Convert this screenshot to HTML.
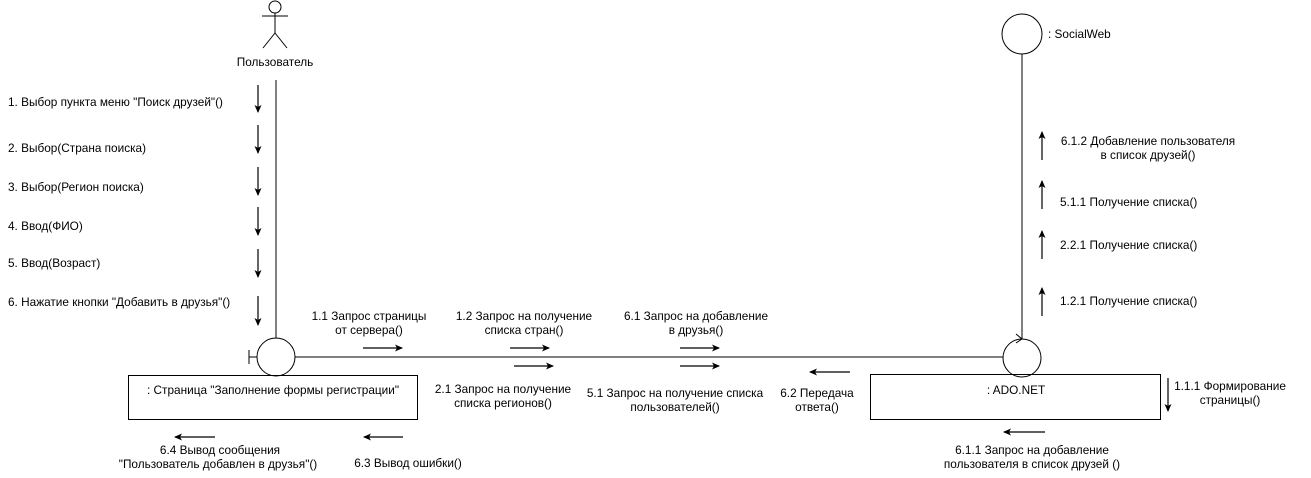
<!DOCTYPE html>
<html><head><meta charset="utf-8"><style>
body{margin:0;background:#fff;width:1311px;height:473px;overflow:hidden}
svg text{font-family:"Liberation Sans",sans-serif;font-size:11.8px;fill:#000}
</style></head><body>
<svg width="1311" height="473" xmlns="http://www.w3.org/2000/svg">
<defs><marker id="a" markerWidth="8" markerHeight="8" refX="7" refY="4" orient="auto" markerUnits="userSpaceOnUse"><path d="M0,0.5 L8,4 L0,7.5 L2,4 Z" fill="#000"/></marker></defs>
<g stroke="#000" fill="none" stroke-width="1">
<circle cx="275" cy="7" r="6"/>
<line x1="275" y1="13" x2="275" y2="33"/>
<line x1="262" y1="16" x2="288" y2="16"/>
<line x1="275" y1="33" x2="263" y2="48"/>
<line x1="275" y1="33" x2="287" y2="48"/>
<line x1="276" y1="80" x2="276" y2="338"/>
<circle cx="1022" cy="34" r="20"/>
<line x1="1022" y1="54" x2="1022" y2="339"/>
<path d="M1016,334 L1022,339 L1016,343"/>
<circle cx="276" cy="357" r="19"/>
<line x1="249" y1="357" x2="257" y2="357"/>
<line x1="249" y1="350" x2="249" y2="364"/>
<line x1="295" y1="357" x2="1003" y2="357"/>
<circle cx="1022" cy="358" r="19"/>
<rect x="128.5" y="375.5" width="289" height="44"/>
<rect x="870.5" y="374.5" width="290" height="45"/>
</g>
<g stroke="#000" stroke-width="1.2" marker-end="url(#a)">
<line x1="258" y1="85" x2="258" y2="112"/>
<line x1="258" y1="125" x2="258" y2="153"/>
<line x1="258" y1="167" x2="258" y2="195"/>
<line x1="258" y1="207" x2="258" y2="235"/>
<line x1="258" y1="249" x2="258" y2="277"/>
<line x1="258" y1="296" x2="258" y2="325"/>
<line x1="1042" y1="160" x2="1042" y2="132"/>
<line x1="1042" y1="209" x2="1042" y2="181"/>
<line x1="1042" y1="259" x2="1042" y2="231"/>
<line x1="1042" y1="316" x2="1042" y2="288"/>
<line x1="363" y1="348" x2="402" y2="348"/>
<line x1="510" y1="348" x2="549" y2="348"/>
<line x1="680" y1="348" x2="719" y2="348"/>
<line x1="514" y1="366" x2="553" y2="366"/>
<line x1="680" y1="366" x2="719" y2="366"/>
<line x1="850" y1="372" x2="810" y2="372"/>
<line x1="1168" y1="378" x2="1168" y2="411"/>
<line x1="215" y1="437" x2="175" y2="437"/>
<line x1="403" y1="437" x2="364" y2="437"/>
<line x1="1045" y1="432" x2="1004" y2="432"/>
</g>
<text x="275" y="66" text-anchor="middle">Пользователь</text>
<text x="1048" y="38">: SocialWeb</text>
<text x="8" y="106">1. Выбор пункта меню "Поиск друзей"()</text>
<text x="8" y="152">2. Выбор(Страна поиска)</text>
<text x="8" y="191">3. Выбор(Регион поиска)</text>
<text x="8" y="230">4. Ввод(ФИО)</text>
<text x="8" y="267">5. Ввод(Возраст)</text>
<text x="8" y="306">6. Нажатие кнопки "Добавить в друзья"()</text>
<text x="1148" y="145" text-anchor="middle">6.1.2 Добавление пользователя</text>
<text x="1148" y="159" text-anchor="middle">в список друзей()</text>
<text x="1060" y="206">5.1.1 Получение списка()</text>
<text x="1060" y="249">2.2.1 Получение списка()</text>
<text x="1060" y="305">1.2.1 Получение списка()</text>
<text x="369" y="320" text-anchor="middle">1.1 Запрос страницы</text>
<text x="369" y="334" text-anchor="middle">от сервера()</text>
<text x="524" y="320" text-anchor="middle">1.2 Запрос на получение</text>
<text x="524" y="334" text-anchor="middle">списка стран()</text>
<text x="696" y="320" text-anchor="middle">6.1 Запрос на добавление</text>
<text x="696" y="334" text-anchor="middle">в друзья()</text>
<text x="273" y="394" text-anchor="middle">: Страница "Заполнение формы регистрации"</text>
<text x="1016" y="394" text-anchor="middle">: ADO.NET</text>
<text x="503" y="393" text-anchor="middle">2.1 Запрос на получение</text>
<text x="503" y="407" text-anchor="middle">списка регионов()</text>
<text x="675" y="397" text-anchor="middle">5.1 Запрос на получение списка</text>
<text x="675" y="411" text-anchor="middle">пользователей()</text>
<text x="817" y="397" text-anchor="middle">6.2 Передача</text>
<text x="817" y="411" text-anchor="middle">ответа()</text>
<text x="1230" y="390" text-anchor="middle">1.1.1 Формирование</text>
<text x="1230" y="404" text-anchor="middle">страницы()</text>
<text x="220" y="454" text-anchor="middle">6.4 Вывод сообщения</text>
<text x="218" y="468" text-anchor="middle">"Пользователь добавлен в друзья"()</text>
<text x="408" y="467" text-anchor="middle">6.3 Вывод ошибки()</text>
<text x="1032" y="454" text-anchor="middle">6.1.1 Запрос на добавление</text>
<text x="1032" y="468" text-anchor="middle">пользователя в список друзей ()</text>
</svg>
</body></html>
